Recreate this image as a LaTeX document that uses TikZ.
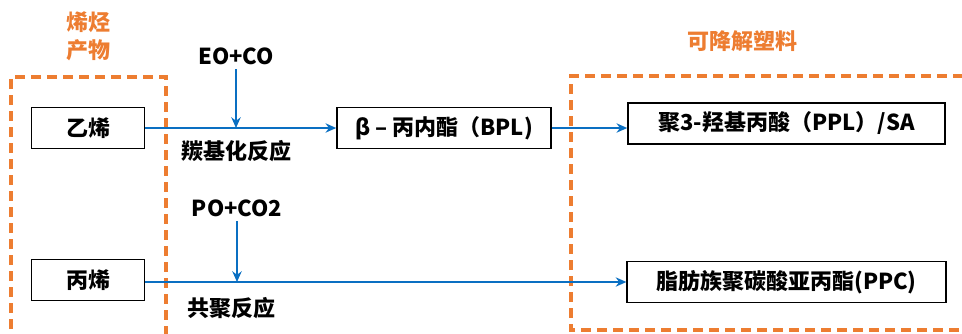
\documentclass[tikz,border=0pt]{standalone}
\usepackage{fontspec}
\setmainfont{Noto Sans CJK SC}
\usepackage{xcolor}
\usetikzlibrary{arrows.meta,positioning,calc}
\definecolor{zone}{HTML}{ED7D31}
\definecolor{route}{HTML}{0A6FC2}

\begin{document}
\begin{tikzpicture}[x=0.75pt, y=-0.75pt, every node/.style={font=\fontsize{16.5}{19}\selectfont\bfseries},
  product/.style={rectangle, draw=black, line width=1.2pt, minimum height=30.5pt, inner sep=0pt, align=center},
  zonebox/.style={draw=zone, line width=2.3pt, dash pattern=on 7.5pt off 4.5pt},
  zonelabel/.style={text=zone, align=center, font=\fontsize{16.5}{21}\selectfont\bfseries},
  flow/.style={-{Stealth[length=8pt, width=7pt]}, route, line width=1.8pt}]
\useasboundingbox (0,0) rectangle (962,333);

% dashed regions (both run past the page edge)
\draw[zonebox] (11,345) -- (11,77) -- (166,77) -- (166,345);
\draw[zonebox] (975,330) -- (571,330) -- (571,76) -- (975,76);
\node[zonelabel] (olefin) at (88,36) {烯烃\\产物};
\node[zonelabel] (plastic) at (742,41) {可降解塑料};

% feedstocks and products
\node[product, minimum width=84.75pt] (ethylene) at (88,128) {乙烯};
\node[product, minimum width=84.75pt] (propylene) at (88,280) {丙烯};
\node[product, minimum width=160.5pt] (bpl) at (444,128) {β – 丙内酯（BPL)};
\node[product, minimum width=237.75pt] (ppl) at (786.5,123.5) {聚3-羟基丙酸（PPL）/SA};
\node[product, minimum width=239pt] (ppc) at (786.5,282) {脂肪族聚碳酸亚丙酯(PPC)};

% co-reactants fed from above
\node (eo) at (236,56) {EO+CO};
\node (po) at (237,208) {PO+CO2};
\coordinate (j1) at (eo |- ethylene);
\coordinate (j2) at (po |- ppc);
\node[below=6pt of j1] (carbonyl) {羰基化反应};
\node[below=8pt of j2, xshift=-4pt] (copoly) {共聚反应};

\draw[flow] (ethylene) -- (bpl);
\draw[flow] (eo) -- (j1);
\draw[flow] (bpl.east) -- (bpl.east -| ppl.west);
\draw[flow] (propylene.east |- ppc) -- (ppc.west);
\draw[flow] (po) -- (j2);
\end{tikzpicture}
\end{document}
